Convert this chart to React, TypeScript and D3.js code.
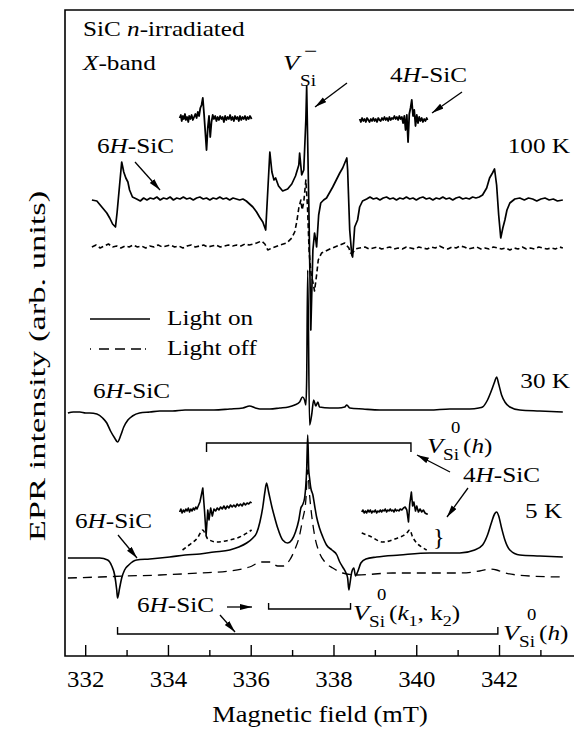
import { useEffect, useRef } from "react";
import * as d3 from "d3";

type Pt = [number, number];

const majorTicks = [332, 334, 336, 338, 340, 342];
const minorTicks = [333, 335, 337, 339, 341, 343];

// baselines of the traces (arb. units above the field axis)
const base100On = 456;
const base100Off = 409;
const base100Inset = 536;
const base30 = 244;
const base5On = 99;
const base5Off = 79;
const base5Inset = 144;
const base5InsetOff = 116;

// [field (mT), signal relative to baseline]
const light100On: Pt[] = [
  [332.15, 0], [332.27, -1], [332.41, -8], [332.51, -13], [332.58, -18], [332.65, -24],
  [332.72, -27], [332.76, -12], [332.87, 38], [332.92, 28], [332.97, 22], [333.02, 18],
  [333.06, 10], [333.13, 3], [333.23, 1], [333.32, -1], [333.4, 2], [333.48, 0], [333.56, 2],
  [333.64, 1], [333.72, 3], [333.8, 0], [333.88, 2], [333.96, 1], [334.04, 3], [334.12, 0],
  [334.2, 2], [334.28, 1], [334.36, 3], [334.44, 1], [334.52, 2], [334.6, 0], [334.68, 2],
  [334.76, 3], [334.84, 1], [334.92, 2], [335.0, 0], [335.08, 2], [335.16, 1], [335.24, 3],
  [335.32, 1], [335.4, 2], [335.48, 0], [335.56, 2], [335.64, 1], [335.72, 0], [335.8, 1],
  [335.88, -1], [335.96, -4], [336.04, -7], [336.13, -12], [336.2, -17], [336.28, -22],
  [336.35, -30], [336.45, 48], [336.5, 28], [336.55, 20], [336.59, 22], [336.66, 14],
  [336.76, 9], [336.88, 11], [336.98, 16], [337.07, 24], [337.15, 35], [337.17, 47],
  [337.22, 25], [337.27, 30], [337.32, 80], [337.34, 114], [337.39, 0], [337.44, -130],
  [337.49, -50], [337.53, -33], [337.56, -40], [337.58, -47], [337.63, -15], [337.68, -3],
  [337.75, 0], [337.82, 2], [337.97, 13], [338.14, 27], [338.21, 32], [338.26, 37],
  [338.31, 42], [338.33, 30], [338.38, -30], [338.43, -55], [338.45, -57], [338.5, -27],
  [338.55, -22], [338.57, -20], [338.62, -7], [338.69, -1], [338.79, 1], [338.87, 3],
  [338.95, 1], [339.03, 2], [339.11, 0], [339.19, 2], [339.27, 3], [339.35, 1], [339.43, 2],
  [339.51, 0], [339.59, 2], [339.67, 1], [339.75, 3], [339.83, 1], [339.91, 2], [339.99, 0],
  [340.07, 2], [340.15, 3], [340.23, 1], [340.31, 2], [340.39, 0], [340.47, 2], [340.55, 1],
  [340.63, 3], [340.71, 1], [340.79, 2], [340.87, 0], [340.95, 2], [341.03, 3], [341.11, 1],
  [341.19, 2], [341.27, 1], [341.35, 3], [341.43, 2], [341.51, 3], [341.59, 5], [341.69, 12],
  [341.76, 22], [341.83, 27], [341.88, 31], [341.93, 15], [341.98, -15], [342.03, -38],
  [342.08, -28], [342.13, -20], [342.18, -10], [342.25, -3], [342.37, 1], [342.49, 2],
  [342.6, 0], [342.7, 2], [342.8, 1], [342.9, -1], [343.0, 1], [343.1, 2], [343.2, 0],
  [343.3, 1], [343.4, -1], [343.53, 0],
];

const light100Off: Pt[] = [
  [332.15, 0], [332.25, 2], [332.35, -1], [332.45, 1], [332.55, 3], [332.65, 0], [332.75, 1],
  [332.85, -1], [332.95, 1], [333.05, 0], [333.15, 2], [333.25, 0], [333.35, 1], [333.45, -1],
  [333.55, 1], [333.65, 0], [333.75, 2], [333.85, 0], [333.95, 1], [334.05, 2], [334.15, 0],
  [334.25, 1], [334.35, -1], [334.45, 1], [334.55, 2], [334.65, 0], [334.75, 1], [334.85, 2],
  [334.95, 0], [335.05, 1], [335.15, 2], [335.25, 0], [335.35, 1], [335.45, 2], [335.55, 1],
  [335.65, 2], [335.75, 1], [335.85, 3], [335.95, 2], [336.05, 3], [336.13, 4], [336.25, 6],
  [336.33, 3], [336.4, -3], [336.5, -1], [336.69, 2], [336.86, 4], [336.98, 9], [337.05, 15],
  [337.1, 25], [337.15, 39], [337.2, 47], [337.23, 37], [337.27, 45], [337.32, 67],
  [337.36, 40], [337.4, -5], [337.44, -25], [337.49, -35], [337.53, -44], [337.58, -28],
  [337.62, -13], [337.7, -6], [337.9, -2], [338.14, 2], [338.26, 4], [338.36, -1], [338.4, -6],
  [338.45, -6], [338.52, -2], [338.62, -1], [338.75, 0], [338.85, -2], [338.95, -1],
  [339.05, 0], [339.15, -2], [339.25, -1], [339.35, 0], [339.45, -2], [339.55, -1],
  [339.65, -2], [339.75, 0], [339.85, -1], [339.95, -2], [340.05, 0], [340.15, -1],
  [340.25, -2], [340.35, 0], [340.45, -1], [340.55, 1], [340.65, -1], [340.75, -2],
  [340.85, 0], [340.95, -1], [341.05, 1], [341.15, 0], [341.25, -2], [341.35, -1],
  [341.45, 0], [341.55, -2], [341.65, -1], [341.75, -2], [341.85, 0], [341.95, -1],
  [342.05, -2], [342.15, -1], [342.25, -3], [342.35, -1], [342.45, -2], [342.55, 0],
  [342.65, -2], [342.75, -1], [342.85, -2], [342.95, 0], [343.05, -1], [343.15, -2],
  [343.25, -1], [343.35, -2], [343.45, 0], [343.53, -1],
];

// 4H-SiC insets at 100 K
const inset100Left: Pt[] = [
  [334.27, 2], [334.3, 5], [334.32, -1], [334.35, 4], [334.37, 1], [334.4, 6], [334.42, 0],
  [334.45, 3], [334.48, -2], [334.5, 4], [334.53, 1], [334.56, 5], [334.59, 0], [334.62, 3],
  [334.65, 6], [334.68, 2], [334.71, 8], [334.74, 4], [334.77, 12], [334.8, 15], [334.83, 22],
  [334.86, 6], [334.89, -12], [334.92, -30], [334.95, -8], [334.98, 4], [335.01, -17],
  [335.04, -2], [335.07, 5], [335.1, 1], [335.13, 4], [335.16, -1], [335.19, 3], [335.22, 0],
  [335.25, 4], [335.28, 1], [335.31, 3], [335.34, -2], [335.37, 4], [335.4, 0], [335.43, 3],
  [335.46, 1], [335.49, 5], [335.52, 0], [335.55, 3], [335.58, -1], [335.61, 4], [335.64, 1],
  [335.67, 3], [335.7, -1], [335.73, 4], [335.76, 0], [335.79, 3], [335.82, 1], [335.85, 4],
  [335.88, 0], [335.91, 3], [335.94, 1], [335.97, 4], [336.01, 1],
];
const inset100Right: Pt[] = [
  [338.62, 1], [338.65, -2], [338.68, 2], [338.71, -1], [338.74, 1], [338.77, -2], [338.8, 2],
  [338.83, 0], [338.86, -2], [338.89, 1], [338.92, -1], [338.95, 2], [338.98, -1], [339.01, 1],
  [339.04, -2], [339.07, 2], [339.1, 0], [339.13, -1], [339.16, 2], [339.19, 0], [339.22, 3],
  [339.25, 0], [339.28, 2], [339.31, -1], [339.34, 3], [339.37, 0], [339.4, 2], [339.43, 1],
  [339.46, 4], [339.49, 1], [339.52, 3], [339.55, 0], [339.58, 4], [339.61, 1], [339.64, 3],
  [339.67, -3], [339.7, 4], [339.73, -10], [339.76, 5], [339.79, -22], [339.82, 6],
  [339.85, 12], [339.88, 20], [339.91, 4], [339.94, 10], [339.97, -6], [340.0, 5],
  [340.03, -3], [340.06, 3], [340.09, -1], [340.12, 2], [340.15, -2], [340.18, 1],
  [340.21, -1], [340.24, 2], [340.26, 0],
];

const light30On: Pt[] = [
  [331.57, -1], [331.7, 0], [331.86, 0], [332.0, -1], [332.1, -1], [332.27, -2], [332.41, -6],
  [332.51, -11], [332.6, -19], [332.7, -26], [332.77, -30], [332.85, -23], [332.92, -15],
  [333.02, -8], [333.13, -4], [333.3, -1], [333.55, 0], [333.79, 1], [334.1, 1], [334.4, 2],
  [334.76, 2], [335.1, 2], [335.48, 3], [335.8, 4], [335.96, 6], [336.1, 4], [336.21, 3],
  [336.45, 3], [336.69, 4], [336.9, 5], [337.05, 7], [337.17, 10], [337.24, 15], [337.29, 12],
  [337.32, 7], [337.34, 32], [337.365, 142], [337.41, -13], [337.46, -3], [337.51, 12],
  [337.56, 6], [337.61, 10], [337.65, 5], [337.9, 4], [338.1, 4], [338.26, 5], [338.31, 7],
  [338.38, 4], [338.7, 3], [339.11, 2], [339.6, 2], [340.31, 2], [340.8, 3], [341.28, 3],
  [341.5, 4], [341.59, 5], [341.71, 12], [341.81, 22], [341.88, 30], [341.93, 35],
  [341.98, 28], [342.05, 17], [342.13, 10], [342.25, 5], [342.49, 2], [342.97, 1],
  [343.53, 0],
];

const light5On: Pt[] = [
  [331.57, -1], [331.86, -1], [332.1, -1], [332.34, -1], [332.53, -3], [332.63, -9],
  [332.7, -18], [332.75, -33], [332.77, -41], [332.82, -31], [332.87, -21], [332.94, -13],
  [333.04, -8], [333.23, -3], [333.55, -2], [334.03, 0], [334.4, 2], [334.76, 3],
  [335.1, 5], [335.48, 7], [335.7, 10], [335.89, 14], [336.04, 19], [336.13, 24],
  [336.21, 35], [336.28, 50], [336.33, 65], [336.37, 74], [336.42, 65], [336.5, 50],
  [336.57, 39], [336.64, 29], [336.76, 17], [336.88, 14], [336.98, 17], [337.07, 25],
  [337.15, 37], [337.2, 49], [337.24, 52], [337.29, 59], [337.32, 72], [337.34, 87],
  [337.365, 122], [337.39, 87], [337.41, 79], [337.44, 69], [337.49, 62], [337.53, 52],
  [337.58, 40], [337.65, 29], [337.73, 20], [337.82, 12], [337.95, 7], [338.07, 2],
  [338.14, -5], [338.21, -10], [338.28, -15], [338.33, -21], [338.36, -33], [338.38, -28],
  [338.43, -15], [338.48, -11], [338.52, -19], [338.57, -15], [338.65, -6], [338.77, -2],
  [339.03, 0], [339.59, 2], [340.31, 4], [341.04, 4], [341.4, 7], [341.59, 12], [341.71, 22],
  [341.81, 35], [341.88, 43], [341.93, 45], [341.98, 41], [342.05, 29], [342.13, 17],
  [342.25, 7], [342.49, 2], [342.97, 1], [343.53, 0],
];

const light5Off: Pt[] = [
  [331.57, -1], [332.34, 0], [333.0, 1], [333.79, 2], [334.76, 4], [335.48, 6], [335.96, 10],
  [336.25, 15], [336.45, 15], [336.64, 11], [336.78, 11], [336.93, 17], [337.05, 27],
  [337.17, 42], [337.24, 57], [337.32, 77], [337.365, 107], [337.41, 82], [337.46, 62],
  [337.53, 42], [337.65, 24], [337.78, 15], [337.97, 9], [338.21, 4], [338.55, 2],
  [339.42, 4], [341.04, 4], [341.52, 6], [341.76, 8], [341.93, 7], [342.13, 4], [342.73, 1],
  [343.53, 0],
];

// 4H-SiC insets at 5 K, light on
const inset5Left: Pt[] = [
  [334.27, 0], [334.3, 3], [334.33, -1], [334.36, 2], [334.39, 0], [334.42, 3], [334.45, 1],
  [334.48, 4], [334.51, 0], [334.54, 3], [334.57, 1], [334.6, 4], [334.63, 2], [334.66, 5],
  [334.69, 3], [334.72, 6], [334.76, 10], [334.8, 18], [334.83, 24], [334.87, 2], [334.91, -23],
  [334.95, 2], [334.98, -8], [335.02, 4], [335.06, -4], [335.1, 3], [335.14, 1], [335.18, 4],
  [335.22, 2], [335.26, 5], [335.3, 3], [335.34, 6], [335.38, 3], [335.42, 6], [335.46, 4],
  [335.5, 7], [335.54, 5], [335.58, 7], [335.62, 5], [335.66, 8], [335.7, 6], [335.74, 8],
  [335.78, 6], [335.82, 9], [335.86, 7], [335.9, 9], [335.94, 8], [335.98, 10], [336.01, 9],
];
const inset5Right: Pt[] = [
  [338.67, 0], [338.7, 2], [338.73, -1], [338.76, 1], [338.79, -1], [338.82, 2], [338.85, 0],
  [338.88, 2], [338.91, -1], [338.94, 1], [338.97, 0], [339.0, 2], [339.03, -1], [339.06, 1],
  [339.09, 0], [339.12, 2], [339.15, 0], [339.18, 2], [339.21, 1], [339.24, 3], [339.27, 0],
  [339.3, 2], [339.33, 1], [339.36, 3], [339.39, 1], [339.42, 2], [339.45, 0], [339.48, 3],
  [339.51, 1], [339.54, 2], [339.57, 1], [339.6, 3], [339.64, 2], [339.68, 4], [339.72, 5],
  [339.76, 2], [339.8, -10], [339.83, 8], [339.87, 20], [339.9, 6], [339.93, 10], [339.97, 1],
  [340.0, 6], [340.04, 0], [340.08, 3], [340.12, 0], [340.16, 2], [340.2, -1], [340.24, -2],
  [340.27, -2],
];
const inset5LeftOff: Pt[] = [
  [334.34, -10], [334.5, -5], [334.7, 2], [334.83, 10], [334.9, 5], [334.95, 1], [335.17, -2],
  [335.48, 0], [335.72, 3], [336.01, 10],
];
const inset5RightOff: Pt[] = [
  [338.67, 7], [338.86, 4], [339.18, -2], [339.47, 1], [339.76, 7], [339.83, 10], [339.9, 3],
  [340.0, -3], [340.12, -7], [340.24, -10],
];

// bracket ranges (mT)
const bracketUpper: Pt = [334.92, 339.86];
const bracketK: Pt = [336.42, 338.4];
const bracketH: Pt = [332.77, 341.96];

const FONT = "'Liberation Serif', 'Times New Roman', serif";

type Part = { t: string; i?: boolean; dy?: number; size?: number };

const App = () => {
  const svgRef = useRef<SVGSVGElement | null>(null);

  useEffect(() => {
    const width = 574;
    const height = 730;
    const margin = { top: 10, left: 65, bottom: 74 };

    const svg = d3.select(svgRef.current);
    svg.selectAll("*").remove();

    const x = d3
      .scaleLinear()
      .domain([331.5, 343.8])
      .range([margin.left, width]);

    const y = d3
      .scaleLinear()
      .domain([0, 646])
      .range([height - margin.bottom, margin.top]);

    const defs = svg.append("defs");
    defs
      .append("marker")
      .attr("id", "head")
      .attr("markerUnits", "userSpaceOnUse")
      .attr("markerWidth", 14)
      .attr("markerHeight", 8)
      .attr("refX", 12)
      .attr("refY", 3)
      .attr("orient", "auto")
      .append("path")
      .attr("d", "M0,0 L12,3 L0,6 Z")
      .attr("fill", "#000");

    const trace = (
      data: Pt[],
      base: number,
      opts: { dash?: string; w?: number; curve?: d3.CurveFactory } = {}
    ) => {
      const line = d3
        .line<Pt>()
        .x((d) => x(d[0]))
        .y((d) => y(base + d[1]))
        .curve(opts.curve ?? d3.curveMonotoneX);
      svg
        .append("path")
        .attr("d", line(data))
        .attr("fill", "none")
        .attr("stroke", "#000")
        .attr("stroke-width", opts.w ?? 1.6)
        .attr("stroke-linejoin", "round")
        .attr("stroke-dasharray", opts.dash ?? null);
    };

    trace(light100Off, base100Off, { dash: "5,3", w: 1.6, curve: d3.curveLinear });
    trace(light100On, base100On, { w: 1.7, curve: d3.curveLinear });
    trace(inset100Left, base100Inset, { w: 1.8, curve: d3.curveLinear });
    trace(inset100Right, base100Inset, { w: 1.8, curve: d3.curveLinear });
    trace(light30On, base30, { w: 1.6 });
    trace(light5Off, base5Off, { dash: "9,6", w: 1.3 });
    trace(light5On, base5On, { w: 1.6 });
    trace(inset5Left, base5Inset, { w: 1.6, curve: d3.curveLinear });
    trace(inset5Right, base5Inset, { w: 1.6, curve: d3.curveLinear });
    trace(inset5LeftOff, base5InsetOff, { dash: "4,3", w: 1.6 });
    trace(inset5RightOff, base5InsetOff, { dash: "4,3", w: 1.6 });

    // frame and axis
    const axisY = y(0);
    svg
      .append("path")
      .attr(
        "d",
        `M${width},${margin.top}H${margin.left}V${axisY}H${width}`
      )
      .attr("fill", "none")
      .attr("stroke", "#000")
      .attr("stroke-width", 1.6);

    svg
      .append("g")
      .selectAll("line")
      .data(majorTicks)
      .join("line")
      .attr("x1", (d) => x(d))
      .attr("x2", (d) => x(d))
      .attr("y1", axisY)
      .attr("y2", axisY - 11)
      .attr("stroke", "#000")
      .attr("stroke-width", 1.4);

    svg
      .append("g")
      .selectAll("line")
      .data(minorTicks)
      .join("line")
      .attr("x1", (d) => x(d))
      .attr("x2", (d) => x(d))
      .attr("y1", axisY)
      .attr("y2", axisY - 6)
      .attr("stroke", "#000")
      .attr("stroke-width", 1.4);

    const text = (
      px: number,
      py: number,
      parts: Part[],
      opts: { size?: number; sx?: number; anchor?: string; rotate?: number } = {}
    ) => {
      const t = svg
        .append("text")
        .attr(
          "transform",
          `translate(${px},${py}) rotate(${opts.rotate ?? 0}) scale(${opts.sx ?? 1.2},1)`
        )
        .attr("font-family", FONT)
        .attr("font-size", opts.size ?? 21)
        .attr("text-anchor", opts.anchor ?? "start")
        .attr("fill", "#000");
      parts.forEach((p) => {
        const s = t.append("tspan").text(p.t);
        if (p.i) s.attr("font-style", "italic");
        if (p.dy) s.attr("dy", p.dy);
        if (p.size) s.attr("font-size", p.size);
      });
    };

    svg
      .append("g")
      .selectAll("text")
      .data(majorTicks)
      .join("text")
      .attr("transform", (d) => `translate(${x(d)},${axisY + 31}) scale(1.08,1)`)
      .attr("font-family", FONT)
      .attr("font-size", 23)
      .attr("text-anchor", "middle")
      .text((d) => d);

    text(320, 722, [{ t: "Magnetic field (mT)" }], { size: 24, sx: 1.1, anchor: "middle" });
    text(45, 366, [{ t: "EPR intensity (arb. units)" }], {
      size: 23,
      sx: 1.5,
      anchor: "middle",
      rotate: -90,
    });

    const sixH: Part[] = [{ t: "6" }, { t: "H", i: true }, { t: "-SiC" }];
    const fourH: Part[] = [{ t: "4" }, { t: "H", i: true }, { t: "-SiC" }];

    text(83, 36, [{ t: "SiC " }, { t: "n", i: true }, { t: "-irradiated" }]);
    text(83, 70, [{ t: "X", i: true }, { t: "-band" }]);

    // V_Si^-
    text(283, 70, [{ t: "V", i: true }], { size: 22 });
    text(300, 86, [{ t: "Si" }], { size: 16 });
    text(304, 57, [{ t: "−" }], { size: 18, sx: 1.3 });
    text(390, 82, fourH);

    text(97, 153, sixH);
    text(570, 153, [{ t: "100 K" }], { anchor: "end" });

    // legend
    svg
      .append("line")
      .attr("x1", 90)
      .attr("x2", 150)
      .attr("y1", 319)
      .attr("y2", 319)
      .attr("stroke", "#000")
      .attr("stroke-width", 1.6);
    svg
      .append("line")
      .attr("x1", 90)
      .attr("x2", 150)
      .attr("y1", 349)
      .attr("y2", 349)
      .attr("stroke", "#000")
      .attr("stroke-width", 1.4)
      .attr("stroke-dasharray", "1,8,10,6,10,6,10,4");
    text(167, 325, [{ t: "Light on" }]);
    text(167, 355, [{ t: "Light off" }]);

    text(93, 398, sixH);
    text(570, 388, [{ t: "30 K" }], { anchor: "end" });

    // brackets
    const bracket = (r: Pt, level: number, tick: number) => {
      svg
        .append("path")
        .attr(
          "d",
          `M${x(r[0])},${level + tick}V${level}H${x(r[1])}V${level + tick}`
        )
        .attr("fill", "none")
        .attr("stroke", "#000")
        .attr("stroke-width", 1.4);
    };
    bracket(bracketUpper, 443, 9);
    bracket(bracketK, 609, -6);
    bracket(bracketH, 634, -7);

    const vsi = (px: number, py: number, tail: Part[]) => {
      text(px, py, [{ t: "V", i: true }], { size: 22 });
      text(px + 24, py - 20, [{ t: "0" }], { size: 17, sx: 1.1 });
      text(px + 16, py + 7, [{ t: "Si" }], { size: 16 });
      text(px + 36, py, tail);
    };

    vsi(427, 453, [{ t: "(" }, { t: "h", i: true }, { t: ")" }]);
    text(463, 482, fourH);
    text(525, 518, [{ t: "5 K" }]);
    text(433, 545, [{ t: "}" }], { size: 24, sx: 1.0 });
    text(75, 528, sixH);

    text(137, 612, sixH);
    vsi(353, 620, [
      { t: "(" },
      { t: "k", i: true },
      { t: "1", dy: 6, size: 15 },
      { t: ", k", dy: -6 },
      { t: "2", dy: 6, size: 15 },
      { t: ")", dy: -6 },
    ]);
    vsi(503, 640, [{ t: "(" }, { t: "h", i: true }, { t: ")" }]);

    const arrow = (x1: number, y1: number, x2: number, y2: number) => {
      svg
        .append("line")
        .attr("x1", x1)
        .attr("y1", y1)
        .attr("x2", x2)
        .attr("y2", y2)
        .attr("stroke", "#000")
        .attr("stroke-width", 1.3)
        .attr("marker-end", "url(#head)");
    };
    arrow(347, 83, 315, 107);
    arrow(462, 92, 432, 113);
    arrow(135, 162, 160, 190);
    arrow(450, 472, 417, 455);
    arrow(468, 488, 447, 517);
    arrow(118, 535, 137, 558);
    arrow(227, 607, 252, 607);
    arrow(220, 615, 235, 632);
  }, []);

  return (
    <svg
      ref={svgRef}
      width={574}
      height={730}
      style={{ position: "absolute", left: 0, top: 0, background: "#fff" }}
    />
  );
};

export default App;
